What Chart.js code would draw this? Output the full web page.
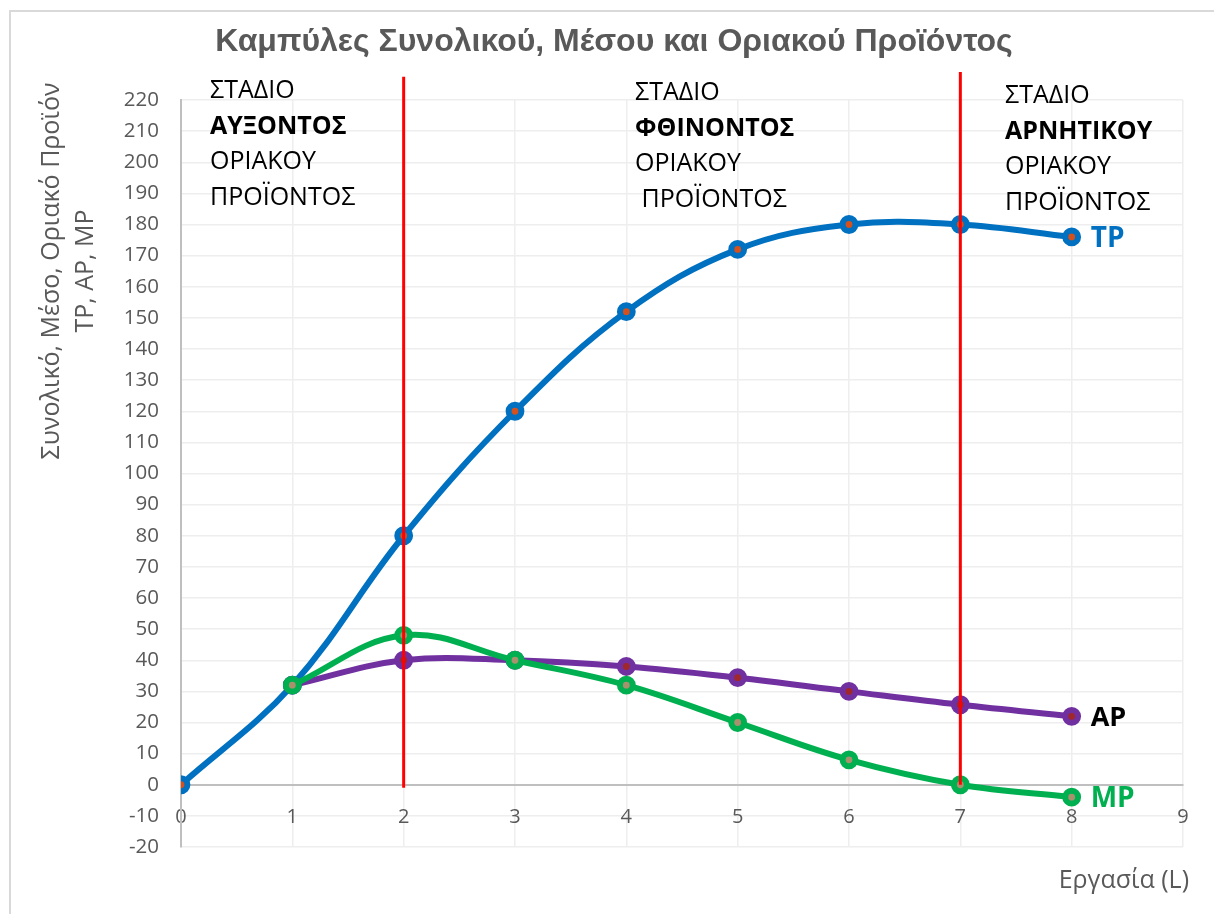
<!DOCTYPE html>
<html>
<head>
<meta charset="utf-8">
<script src="https://cdn.jsdelivr.net/npm/chart.js@4.4.1/dist/chart.umd.min.js"></script>
<style>
  html, body { margin: 0; padding: 0; background: #ffffff; }
  canvas { display: block; }
</style>
</head>
<body>
<canvas id="chart" width="1214" height="914"></canvas>
<script>
// Labour input (L) and the three product curves
const labour = [0, 1, 2, 3, 4, 5, 6, 7, 8];
const totalProduct = [0, 32, 80, 120, 152, 172, 180, 180, 176];
const averageProduct = [null, 32, 40, 40, 38, 34.4, 30, 25.7, 22];
const marginalProduct = [null, 32, 48, 40, 32, 20, 8, 0, -4];

// Stage boundaries (vertical red lines) and their vertical extent
const stageBounds = [2, 7];
const stageLineBottom = [-1, 0];
const stageLineTop = [227.5, 229];

// Axis ranges / tick steps
const xRange = [0, 9];
const xStep = 1;
const yRange = [-20, 220];
const yStep = 10;

// Text
const chartTitle = 'Καμπύλες Συνολικού, Μέσου και Οριακού Προϊόντος';
const yTitleLines = ['Συνολικό, Μέσο, Οριακό Προϊόν', 'TP, AP, MP'];
const xTitle = 'Εργασία (L)';
const stageTexts = [
  ['ΣΤΑΔΙΟ', 'ΑΥΞΟΝΤΟΣ', 'ΟΡΙΑΚΟΥ', 'ΠΡΟΪΟΝΤΟΣ'],
  ['ΣΤΑΔΙΟ', 'ΦΘΙΝΟΝΤΟΣ', 'ΟΡΙΑΚΟΥ', ' ΠΡΟΪΟΝΤΟΣ'],
  ['ΣΤΑΔΙΟ', 'ΑΡΝΗΤΙΚΟΥ', 'ΟΡΙΑΚΟΥ', 'ΠΡΟΪΟΝΤΟΣ']
];
const seriesNames = ['TP', 'AP', 'MP'];

const toPoints = (xs, ys) => xs.map((x, i) => ({ x, y: ys[i] })).filter(p => p.y !== null);

const BLUE = '#0070C0', PURPLE = '#7030A0', GREEN = '#00B050', RED = '#FF0000';
const AXIS_TEXT = '#595959';
const SANS = '"Open Sans", "Noto Sans", sans-serif';

function stageLine(i) {
  return {
    data: [{ x: stageBounds[i], y: stageLineBottom[i] }, { x: stageBounds[i], y: stageLineTop[i] }],
    showLine: true, borderColor: RED, borderWidth: 3, pointRadius: 0, tension: 0,
    clip: false, order: 0
  };
}

function curve(ys, color, inner, order) {
  return {
    data: toPoints(labour, ys),
    showLine: true, borderColor: color, borderWidth: 6, tension: 0.38,
    pointRadius: 6.4, pointBorderWidth: 6, pointBackgroundColor: inner, pointBorderColor: color,
    pointHoverRadius: 6.4, order
  };
}

// Outer frame of the chart
const framePlugin = {
  id: 'frame',
  beforeDraw(chart) {
    const ctx = chart.ctx;
    ctx.save();
    ctx.fillStyle = '#ffffff';
    ctx.fillRect(0, 0, chart.width, chart.height);
    ctx.strokeStyle = '#d9d9d9';
    ctx.lineWidth = 2;
    ctx.beginPath();
    ctx.moveTo(10, chart.height + 2);
    ctx.lineTo(10, 11);
    ctx.lineTo(chart.width + 2, 11);
    ctx.stroke();
    ctx.restore();
  }
};

// Title, axis titles, stage descriptions and curve names
const textPlugin = {
  id: 'texts',
  afterDraw(chart) {
    const ctx = chart.ctx;
    const xs = chart.scales.x, ys = chart.scales.y;
    ctx.save();
    ctx.textBaseline = 'middle';

    // chart title
    ctx.fillStyle = AXIS_TEXT;
    ctx.font = 'bold 32px "Liberation Sans", Arial, sans-serif';
    ctx.textAlign = 'center';
    ctx.fillText(chartTitle, 614, 42);

    // vertical axis title (two rotated lines)
    ctx.font = '25px ' + SANS;
    ctx.save();
    ctx.translate(52, 271);
    ctx.rotate(-Math.PI / 2);
    ctx.fillText(yTitleLines[0], 0, 0);
    ctx.fillText(yTitleLines[1], 0, 34);
    ctx.restore();

    // horizontal axis title
    ctx.textAlign = 'right';
    ctx.fillText(xTitle, 1189, 881);

    // stage descriptions
    const blocks = [
      { x: 210, y: 91 },
      { x: 635, y: 93 },
      { x: 1005, y: 96 }
    ];
    ctx.textAlign = 'left';
    ctx.fillStyle = '#000000';
    stageTexts.forEach((lines, b) => {
      lines.forEach((t, k) => {
        ctx.font = (k === 1 ? 'bold ' : '') + '25px ' + SANS;
        ctx.fillText(t, blocks[b].x, blocks[b].y + k * 35.5);
      });
    });

    // curve names next to the last points
    const last = labour.length - 1;
    const ends = [totalProduct[last], averageProduct[last], marginalProduct[last]];
    const colors = [BLUE, '#000000', GREEN];
    const sizes = [28, 27, 28];
    seriesNames.forEach((n, i) => {
      ctx.font = 'bold ' + sizes[i] + 'px ' + SANS;
      ctx.fillStyle = colors[i];
      ctx.fillText(n, xs.getPixelForValue(labour[last]) + 19, ys.getPixelForValue(ends[i]) + 2);
    });

    ctx.restore();
  }
};

new Chart(document.getElementById('chart'), {
  type: 'scatter',
  data: {
    datasets: [
      stageLine(0),
      stageLine(1),
      curve(marginalProduct, GREEN, '#A8926E', 1),
      curve(averageProduct, PURPLE, '#A0282B', 2),
      curve(totalProduct, BLUE, '#D4501C', 3)
    ]
  },
  options: {
    responsive: false,
    animation: false,
    devicePixelRatio: 1,
    layout: { padding: { left: 0, right: 31, top: 100, bottom: 67 } },
    plugins: {
      legend: { display: false },
      tooltip: { enabled: false },
      title: { display: false }
    },
    scales: {
      x: {
        type: 'linear',
        min: xRange[0], max: xRange[1],
        position: { y: 0 },
        ticks: { stepSize: xStep, color: AXIS_TEXT, font: { family: SANS, size: 20 }, padding: 21 },
        grid: { color: '#eeeeee', lineWidth: 1.5, drawTicks: false },
        border: { color: '#bfbfbf', width: 2 },
        afterFit(s) { s.height = 0; }
      },
      y: {
        type: 'linear',
        min: yRange[0], max: yRange[1],
        ticks: { stepSize: yStep, color: AXIS_TEXT, font: { family: SANS, size: 20.5 }, padding: 22 },
        grid: { color: '#eeeeee', lineWidth: 1.5, drawTicks: false },
        border: { color: '#bfbfbf', width: 2 },
        afterFit(s) { s.width = 181; }
      }
    }
  },
  plugins: [framePlugin, textPlugin]
});
</script>
</body>
</html>
